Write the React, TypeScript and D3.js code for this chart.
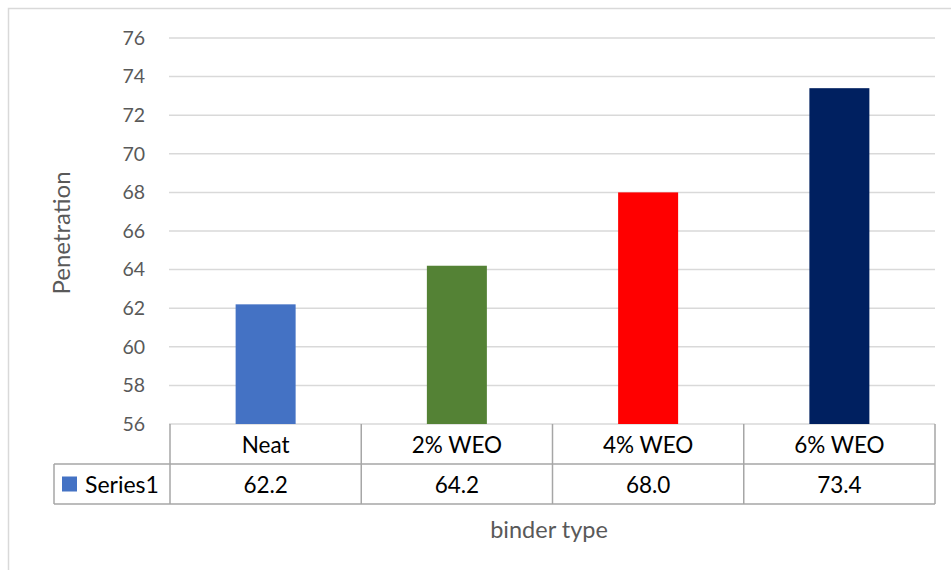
import React, { useEffect, useRef } from 'react'
import * as d3 from 'd3'

const categories = ['Neat', '2% WEO', '4% WEO', '6% WEO']
const values = [62.2, 64.2, 68.0, 73.4]
const barColors = ['#4472c4', '#548235', '#ff0000', '#002060']
const yTicks = [56, 58, 60, 62, 64, 66, 68, 70, 72, 74, 76]
const seriesName = 'Series1'

const FONT = 'Lato, "Open Sans", sans-serif'

export default function App() {
  const ref = useRef<SVGSVGElement>(null)

  useEffect(() => {
    const svg = d3.select(ref.current)
    svg.selectAll('*').remove()

    const left = 170, right = 935, top = 38, base = 424
    const rowH = 40

    // outer chart frame
    svg.append('rect')
      .attr('x', 8.5).attr('y', 8.5)
      .attr('width', 960).attr('height', 600)
      .attr('fill', '#fff').attr('stroke', '#d9d9d9').attr('stroke-width', 1.5)

    const x = d3.scaleBand().domain(categories).range([left, right]).paddingInner(0).paddingOuter(0)
    const y = d3.scaleLinear().domain([56, 76]).range([base, top])

    // gridlines
    svg.append('g').selectAll('line')
      .data(yTicks)
      .enter().append('line')
      .attr('x1', left - 1).attr('x2', right)
      .attr('y1', d => y(d)).attr('y2', d => y(d))
      .attr('stroke', '#d9d9d9').attr('stroke-width', 1.5)

    // y tick labels
    svg.append('g').selectAll('text')
      .data(yTicks)
      .enter().append('text')
      .attr('x', 145).attr('y', d => y(d))
      .attr('dy', '0.35em')
      .attr('text-anchor', 'end')
      .attr('font-family', FONT).attr('font-size', 19.5)
      .attr('fill', '#595959')
      .text(d => d)

    // bars
    const barW = 60
    svg.append('g').selectAll('rect')
      .data(values)
      .enter().append('rect')
      .attr('x', (d, i) => x(categories[i])! + x.bandwidth() / 2 - barW / 2)
      .attr('width', barW)
      .attr('y', d => y(d))
      .attr('height', d => base - y(d))
      .attr('fill', (d, i) => barColors[i])

    // data table
    const tbl = svg.append('g')
    const lineCol = '#a6a6a6'
    const edges = categories.map(c => x(c)!).concat([right])
    tbl.selectAll('line.v')
      .data(edges)
      .enter().append('line')
      .attr('x1', d => d).attr('x2', d => d)
      .attr('y1', base).attr('y2', base + rowH * 2)
      .attr('stroke', lineCol).attr('stroke-width', 1.5)
    tbl.append('line')
      .attr('x1', 54).attr('x2', right)
      .attr('y1', base + rowH).attr('y2', base + rowH)
      .attr('stroke', lineCol).attr('stroke-width', 1.5)
    tbl.append('line')
      .attr('x1', 54).attr('x2', right)
      .attr('y1', base + rowH * 2).attr('y2', base + rowH * 2)
      .attr('stroke', lineCol).attr('stroke-width', 1.5)
    tbl.append('line')
      .attr('x1', 54).attr('x2', 54)
      .attr('y1', base + rowH).attr('y2', base + rowH * 2)
      .attr('stroke', lineCol).attr('stroke-width', 1.5)

    tbl.selectAll('text.cat')
      .data(categories)
      .enter().append('text')
      .attr('x', d => x(d)! + x.bandwidth() / 2)
      .attr('y', base + rowH / 2 + 1)
      .attr('dy', '0.35em')
      .attr('text-anchor', 'middle')
      .attr('font-family', FONT).attr('font-size', 22.5)
      .attr('fill', '#000')
      .text(d => d)

    tbl.selectAll('text.val')
      .data(values)
      .enter().append('text')
      .attr('x', (d, i) => x(categories[i])! + x.bandwidth() / 2)
      .attr('y', base + rowH * 1.5 + 1)
      .attr('dy', '0.35em')
      .attr('text-anchor', 'middle')
      .attr('font-family', FONT).attr('font-size', 22.5)
      .attr('fill', '#000')
      .text(d => d.toFixed(1))

    tbl.append('rect')
      .attr('x', 62).attr('y', base + rowH * 1.5 - 7.5)
      .attr('width', 15).attr('height', 15)
      .attr('fill', barColors[0])
    tbl.append('text')
      .attr('x', 85).attr('y', base + rowH * 1.5 + 1)
      .attr('dy', '0.35em')
      .attr('font-family', FONT).attr('font-size', 23)
      .attr('fill', '#000')
      .text(seriesName)

    // axis titles
    svg.append('text')
      .attr('x', 549).attr('y', 530)
      .attr('dy', '0.35em')
      .attr('text-anchor', 'middle')
      .attr('font-family', FONT).attr('font-size', 23.5)
      .attr('fill', '#595959')
      .text('binder type')

    svg.append('text')
      .attr('transform', 'translate(62,233) rotate(-90)')
      .attr('dy', '0.35em')
      .attr('text-anchor', 'middle')
      .attr('font-family', FONT).attr('font-size', 24)
      .attr('fill', '#595959')
      .text('Penetration')
  }, [])

  return (
    <svg ref={ref} width={951} height={570}
      style={{ position: 'absolute', left: 0, top: 0, display: 'block' }} />
  )
}
